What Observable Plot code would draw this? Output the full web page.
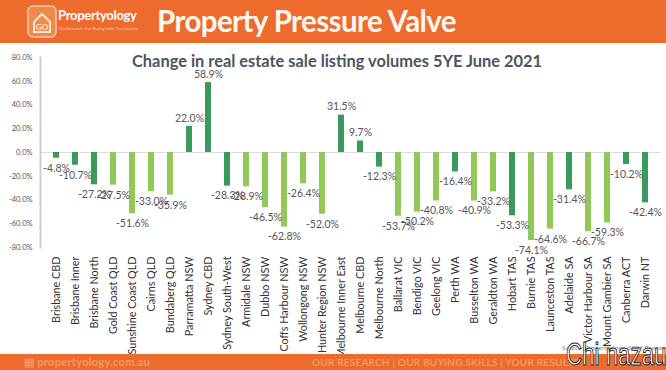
<!DOCTYPE html>
<html>
<head>
<meta charset="utf-8">
<script src="https://cdn.jsdelivr.net/npm/d3@7"></script>
<script src="https://cdn.jsdelivr.net/npm/@observablehq/plot@0.6"></script>
<style>
  html, body { margin: 0; padding: 0; background: #fff; }
  #page { position: relative; width: 666px; height: 370px; overflow: hidden; font-family: Lato, "Open Sans", sans-serif; }
  #header { position: absolute; left: 0; top: 0; width: 666px; height: 43px; background: #ee6b2e; }
  #logo { position: absolute; left: 27px; top: 5px; }
  #brand { position: absolute; left: 58px; top: 7px; color: #fff; font-weight: 700; font-size: 13px; letter-spacing: -0.3px; }
  #tag { position: absolute; left: 59px; top: 26px; color: #fbd0b5; font-size: 4px; }
  #big { position: absolute; left: 157px; top: 3px; color: #fff8f0; font-weight: 700; font-size: 29.5px; letter-spacing: -0.6px; white-space: nowrap; }
  #chart { position: absolute; left: 0; top: 44px; }
  #footer { position: absolute; left: 0; top: 354px; width: 666px; height: 16px; background: #ee6b2e; }
  #fleft { position: absolute; left: 24px; top: 1px; color: #f59a5e; font-size: 11px; font-weight: 700; letter-spacing: 0.3px; }
  #fright { position: absolute; left: 312px; top: 2px; color: #f59a5e; font-size: 10px; font-weight: 700; letter-spacing: 0.2px; white-space: nowrap; }
  #source { position: absolute; left: 562px; top: 344px; color: #888; font-size: 6.5px; white-space: nowrap; }
  #wm { position: absolute; left: 566px; top: 337px; color: #fff; font-size: 31px; font-family: "Liberation Sans", Arial, sans-serif;
        -webkit-text-stroke: 1px #222; white-space: nowrap; transform: scaleX(0.72); transform-origin: left top; }
</style>
</head>
<body>
<div id="page">
  <div id="header">
    <svg id="logo" width="30" height="33" viewBox="0 0 30 33">
      <rect x="1" y="1" width="28" height="31" rx="5" fill="#f08a4a" stroke="#f7c9a6" stroke-width="1.5"/>
      <path d="M7 17 L15 9 L23 17 L23 27 L7 27 Z" fill="none" stroke="#fde6d4" stroke-width="2"/>
      <text x="15" y="25" text-anchor="middle" font-size="8" font-weight="700" fill="#fde6d4" font-family="Lato">GO</text>
    </svg>
    <div id="brand">Propertyology</div>
    <div id="tag">Our Research. Our Buying Skills. Your Results.</div>
    <div id="big">Property Pressure Valve</div>
  </div>
  <div id="chart"></div>
  <div id="source">Source: Propertyology, SQM Research</div>
  <div id="footer">
    <div id="fleft">&#9636; propertyology.com.au</div>
    <div id="fright">OUR RESEARCH | OUR BUYING SKILLS | YOUR RESULTS</div>
  </div>
  <div id="wm">Chi nazau</div>
</div>
<script>
const chartTitle = "Change in real estate sale listing volumes 5YE June 2021";

const categories = [
  "Brisbane CBD", "Brisbane Inner", "Brisbane North", "Gold Coast QLD", "Sunshine Coast QLD",
  "Cairns QLD", "Bundaberg QLD", "Parramatta NSW", "Sydney CBD", "Sydney South-West",
  "Armidale NSW", "Dubbo NSW", "Coffs Harbour NSW", "Wollongong NSW", "Hunter Region NSW",
  "Melbourne Inner East", "Melbourne CBD", "Melbourne North", "Ballarat VIC", "Bendigo VIC",
  "Geelong VIC", "Perth WA", "Busselton WA", "Geraldton WA", "Hobart TAS",
  "Burnie TAS", "Launceston TAS", "Adelaide SA", "Victor Harbour SA", "Mount Gambier SA",
  "Canberra ACT", "Darwin NT"
];

const changePct = [
  -4.8, -10.7, -27.2, -27.5, -51.6,
  -33.0, -35.9, 22.0, 58.9, -28.3,
  -28.9, -46.5, -62.8, -26.4, -52.0,
  31.5, 9.7, -12.3, -53.7, -50.2,
  -40.8, -16.4, -40.9, -33.2, -53.3,
  -74.1, -64.6, -31.4, -66.7, -59.3,
  -10.2, -42.4
];

const areaType = [
  "capital", "capital", "capital", "regional", "regional",
  "regional", "regional", "capital", "capital", "capital",
  "regional", "regional", "regional", "regional", "regional",
  "capital", "capital", "capital", "regional", "regional",
  "regional", "capital", "regional", "regional", "capital",
  "regional", "regional", "capital", "regional", "regional",
  "capital", "capital"
];

const yTicks = [80, 60, 40, 20, 0, -20, -40, -60, -80];

const data = categories.map((c, i) => ({ area: c, value: changePct[i], type: areaType[i] }));

const plot = Plot.plot({
  width: 666,
  height: 310,
  marginLeft: 40,
  marginRight: 5,
  marginTop: 13,
  marginBottom: 107,
  style: { fontFamily: "Lato, 'Open Sans', sans-serif", background: "transparent" },
  x: { domain: categories, paddingInner: 0.66, paddingOuter: 0.33, label: null },
  y: { domain: [-80, 80], label: null },
  color: { domain: ["capital", "regional"], range: ["#3a9a5b", "#92c75a"] },
  marks: [
    Plot.ruleY([0], { stroke: "#dcdcdc", strokeWidth: 1 }),
    Plot.barY(data, { x: "area", y: "value", fill: "type" }),
    Plot.frame({ anchor: "left", stroke: "#c9cde0", strokeWidth: 2 }),
    Plot.axisY({ ticks: yTicks, tickSize: 0, tickPadding: 8, tickFormat: d => d.toFixed(1) + "%", fontSize: 7.5, color: "#555", label: null }),
    Plot.axisX({ tickSize: 0, tickPadding: 9, tickRotate: -90, fontSize: 10.8, color: "#333", label: null }),
    Plot.text(data.filter(d => d.value < 0), { x: "area", y: "value", text: d => d.value.toFixed(1) + "%", dy: 10, fontSize: 10.5, fill: "#555" }),
    Plot.text(data.filter(d => d.value >= 0), { x: "area", y: "value", text: d => d.value.toFixed(1) + "%", dy: -8, fontSize: 10.5, fill: "#555" }),
    Plot.text([chartTitle], { frameAnchor: "top", dx: -14, dy: -2, fontSize: 16.4, fontWeight: "bold", fill: "#4d5560" })
  ]
});

document.getElementById("chart").appendChild(plot);
</script>
</body>
</html>
